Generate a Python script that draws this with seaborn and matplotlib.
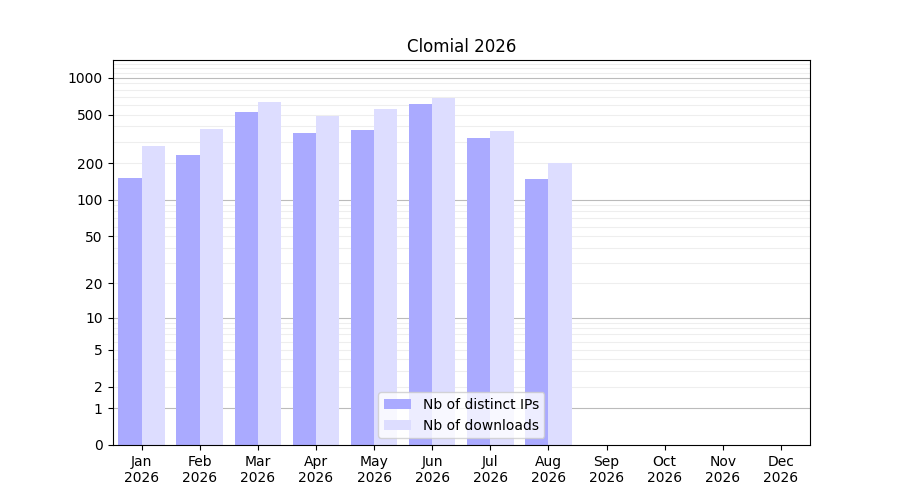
import numpy as np
import pandas as pd
import matplotlib
matplotlib.use("Agg")
import matplotlib.pyplot as plt
import seaborn as sns

months = ["Jan\n2026", "Feb\n2026", "Mar\n2026", "Apr\n2026", "May\n2026", "Jun\n2026",
          "Jul\n2026", "Aug\n2026", "Sep\n2026", "Oct\n2026", "Nov\n2026", "Dec\n2026"]
distinct_ips = [150, 235, 530, 355, 375, 610, 320, 148, np.nan, np.nan, np.nan, np.nan]
downloads = [275, 385, 640, 490, 560, 690, 365, 200, np.nan, np.nan, np.nan, np.nan]

df = pd.DataFrame({
    "month": months * 2,
    "value": distinct_ips + downloads,
    "series": ["Nb of distinct IPs"] * 12 + ["Nb of downloads"] * 12,
})

fig, ax = plt.subplots(figsize=(9, 5), dpi=100)
sns.barplot(data=df, x="month", y="value", hue="series", order=months,
            palette=["#aaaaff", "#ddddff"], width=0.8, saturation=1, ax=ax)

# log(1+x) scale
ax.set_yscale("function", functions=(lambda v: np.log10(1 + np.maximum(v, 0)),
                                     lambda v: 10 ** v - 1))
ax.set_ylim(0, 1400)
ticks = [0, 1, 2, 5, 10, 20, 50, 100, 200, 500, 1000]
ax.set_yticks(ticks)
ax.set_yticklabels([str(t) for t in ticks])
minor = [m * d for d in (1, 10, 100) for m in range(2, 10)] + [1000 * m for m in (1.1, 1.2, 1.3)]
ax.set_yticks([m for m in minor if m < 1400], minor=True)
ax.tick_params(axis="y", which="minor", length=0)
for v in [1, 10, 100, 1000]:
    ax.axhline(v, color="#bbbbbb", lw=0.8, zorder=0)
for v in minor:
    if v < 1400:
        ax.axhline(v, color="#eeeeee", lw=0.8, zorder=0)
ax.set_axisbelow(True)

ax.set_xlabel("")
ax.set_ylabel("")
ax.set_title("Clomial 2026")
ax.legend(loc="lower center", framealpha=0.8)
fig.savefig("out.png")
